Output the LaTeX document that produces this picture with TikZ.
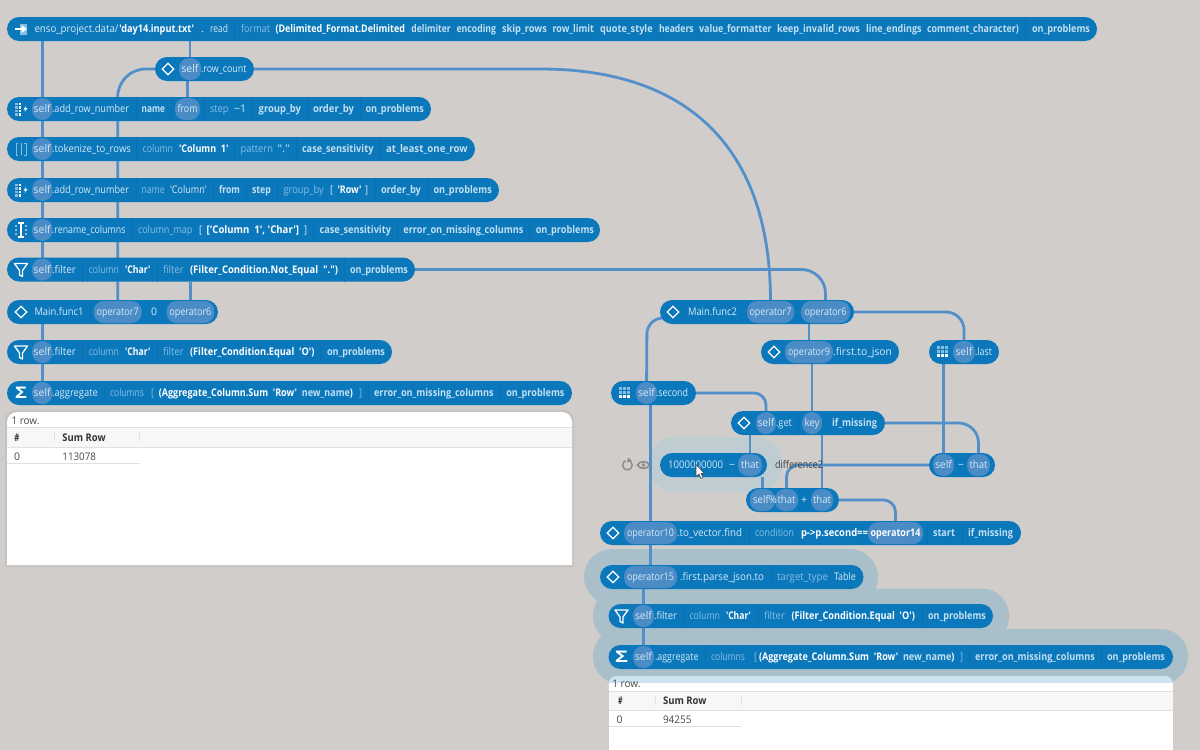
\documentclass[tikz,border=0pt]{standalone}
\usepackage{fontspec}
\usepackage{graphicx}
\setmainfont{Open Sans}[Ligatures=TeXOff]
\usetikzlibrary{shapes.geometric,calc}
\definecolor{bgc}{HTML}{D0CDCA}
\definecolor{pillc}{HTML}{0B78BC}
\definecolor{chipc}{HTML}{4B8CC6}
\definecolor{edgec}{HTML}{5390CA}
\definecolor{sepc}{HTML}{0A70B2}
\definecolor{haloc}{HTML}{A9BFC9}
\definecolor{halok}{HTML}{BFCDD2}
\definecolor{nrm}{HTML}{D6EAF6}
\definecolor{dimc}{HTML}{86BEE2}
\definecolor{argc}{HTML}{C2E0F2}
\definecolor{tabtx}{HTML}{4A4A4A}
\definecolor{icong}{HTML}{8C8C8A}
\definecolor{tabtint}{HTML}{CDE3F0}
\pgfdeclarelayer{under}
\pgfdeclarelayer{wires}
\pgfsetlayers{under,wires,main}
\tikzset{
  pillbox/.style={fill=pillc,rounded corners=12pt,minimum height=24pt,inner sep=0pt,outer sep=0pt},
  halobox/.style={fill=haloc,rounded corners=27pt,inner sep=0pt,outer sep=0pt},
  chipbox/.style={fill=chipc,rounded corners=10pt,minimum height=22pt,inner sep=0pt,outer sep=0pt,text=nrm,font=\fontsize{10.5}{12}\selectfont,text height=9.5pt,text depth=2.5pt},
  txt/.style={inner sep=0pt,outer sep=0pt,anchor=base west,font=\fontsize{10.5}{12}\selectfont},
  nrmt/.style={text=nrm},
  dimt/.style={text=dimc},
  argt/.style={text=argc,font=\fontsize{10.5}{12}\selectfont\bfseries},
  lit/.style={text=white,font=\fontsize{10.5}{12}\selectfont\bfseries},
  tabt/.style={text=tabtx},
  tabh/.style={text=black!80,font=\fontsize{10.5}{12}\selectfont\bfseries},
  wire/.style={draw=edgec,line width=2.8pt},
  sepline/.style={draw=sepc,line width=0.6pt},
  diam/.style={draw=white,diamond,line width=1.2pt,minimum width=12pt,minimum height=12pt,inner sep=0pt},
  rule/.style={draw=black!12,line width=0.7pt},
}
\newcounter{tc}
\newcommand\tx[5]{\stepcounter{tc}\pgfmathsetlengthmacro\tw{(#3-#2)}%
  \node[txt,#1] (t\arabic{tc}) at (#2,#4+3.5) {\resizebox{\tw}{\height}{#5}};}
\newcommand\pill[4]{\node[pillbox,minimum width={(#3-#2)*1pt}] (#1) at ({(#2+#3)/2},#4) {};}
\newcommand\chip[6]{\pgfmathsetlengthmacro\tw{#5}%
  \node[chipbox,minimum width={(#3-#2)*1pt}] (#1) at ({(#2+#3)/2},#4) {\resizebox{\tw}{\height}{#6}};}
\newcommand\sep[2]{\draw[sepline] (#1,#2-12) -- (#1,#2+12);}
\newcommand\dmd[3]{\node[diam] (#1) at (#2,#3) {};}
\newcommand\funnel[2]{\draw[white,line width=1.3pt,line join=round] (#1-6.5,#2-6) -- (#1+6.5,#2-6) -- (#1+1.5,#2+1) -- (#1+1.5,#2+7) -- (#1-1.5,#2+5.5) -- (#1-1.5,#2+1) -- cycle;}
\newcommand\gridicon[2]{\foreach \i in {-1,0,1}{\foreach \j in {-1,0}{\fill[dimc] (#1+\i*4-1.5,#2+\j*4-2) rectangle ++(3,3);}\fill[white] (#1+\i*4-1.5,#2+2) rectangle ++(3,3);}}
\newcommand\rownumicon[2]{\foreach \j in {-1.5,-0.5,0.5,1.5}{\fill[dimc] (#1-6,#2+\j*3.5-1.2) rectangle ++(2.6,2.6);\fill[white] (#1-2.4,#2+\j*3.5-1.2) rectangle ++(2.6,2.6);}\fill[white] (#1+5,#2-3) -- (#1+2.5,#2+0.5) -- (#1+4.5,#2+0.5) -- (#1+3.5,#2+3) -- (#1+6.5,#2-0.8) -- (#1+4.5,#2-0.8) -- cycle;}
\begin{document}
\begin{tikzpicture}[x=1pt,y=-1pt]
\useasboundingbox (0,0) rectangle (1200,750);
% ---------- left column pills
\pill{top}{7}{1097}{29}
\pill{rc}{155}{254}{69}
\pill{pa}{7}{431}{109}
\pill{pb}{7}{475}{149}
\pill{pc}{7}{499}{190}
\pill{pd}{7}{600}{230}
\pill{pe}{7}{415}{269.5}
\pill{ff}{7}{218}{312}
\pill{pg}{7}{392}{352}
\pill{ph}{7}{572}{393}
% ---------- right column pills
\pill{fg}{660}{854}{312}
\pill{opn}{761}{899}{352}
\pill{lastp}{929}{999}{352}
\pill{secp}{611}{696}{393}
\pill{getp}{731}{885}{423}
\pill{kp}{660}{767}{465}
\pill{subp}{929}{995}{465}
\pill{addp}{746}{839}{500}
\pill{tenp}{600}{1021}{533}
\pill{fifp}{600}{863.5}{577}
\pill{fltp}{608.5}{993}{616}
\pill{aggp}{608.5}{1173}{657}
% ---------- background and halos
\begin{pgfonlayer}{under}
\fill[bgc] (0,0) rectangle (1200,750);
\node[halobox,rounded corners=28pt,minimum width=294pt,minimum height=56pt] (ha) at (731,577) {};
\node[halobox,minimum width=416pt,minimum height=55pt] (hb) at (801,616) {};
\node[halobox,minimum width=595pt,minimum height=55pt] (hc) at (890.5,656.5) {};
\node[fill=halok,rounded corners=27pt,inner sep=0pt,minimum width=135pt,minimum height=55pt] (hd) at (715.5,464.5) {};
\end{pgfonlayer}
% ---------- top pill
\fill[dimc] (15,23.5) rectangle (27,34.5);
\fill[pillc] (15,23.5) rectangle (20,34.5);
\draw[white,line width=1.6pt] (15,29) -- (24,29);
\fill[white] (27,29) -- (21.5,25) -- (21.5,33) -- cycle;
\tx{nrmt}{34.5}{118.5}{29}{enso\_project.data/}
\tx{lit}{119.4}{194}{29}{'day14.input.txt'}
\tx{nrmt}{201}{204}{29}{.}
\tx{nrmt}{210}{228}{29}{read}
\sep{234}{29}
\tx{dimt}{241}{270}{29}{format}
\tx{lit}{275.5}{405}{29}{(Delimited\_Format.Delimited}
\tx{argt}{411.4}{450.8}{29}{delimiter}
\tx{argt}{456.6}{496}{29}{encoding}
\tx{argt}{502}{547}{29}{skip\_rows}
\tx{argt}{552.6}{594}{29}{row\_limit}
\tx{argt}{600}{652.7}{29}{quote\_style}
\tx{argt}{659}{693.7}{29}{headers}
\tx{argt}{699}{771.7}{29}{value\_formatter}
\tx{argt}{777}{860}{29}{keep\_invalid\_rows}
\tx{argt}{866}{921.7}{29}{line\_endings}
\tx{argt}{927}{1019}{29}{comment\_character)}
\sep{1025}{29}
\tx{argt}{1032}{1090}{29}{on\_problems}
% ---------- row_count
\dmd{drc}{168}{69}
\chip{srk}{179}{201}{69}{17}{self}
\tx{nrmt}{201}{246.5}{69}{.row\_count}
% ---------- add_row_number 1
\rownumicon{21}{109}
\chip{sa}{32}{52.5}{109}{17}{self}
\tx{nrmt}{52}{129}{109}{.add\_row\_number}
\sep{136}{109}
\tx{argt}{141.6}{165}{109}{name}
\sep{171}{109}
\chip{fromc}{175}{200}{109}{20}{from}
\sep{204}{109}
\tx{dimt}{210}{228.5}{109}{step}
\tx{nrmt}{234}{246}{109}{−1}
\sep{252.6}{109}
\tx{argt}{258.7}{301}{109}{group\_by}
\sep{307}{109}
\tx{argt}{313}{354}{109}{order\_by}
\sep{360}{109}
\tx{argt}{365.5}{424}{109}{on\_problems}
% ---------- tokenize
\draw[dimc,line width=1pt] (18,143) -- (16,143) -- (16,155) -- (18,155);
\draw[dimc,line width=1pt] (24,143) -- (26,143) -- (26,155) -- (24,155);
\draw[dimc,line width=1pt] (21,143) -- (21,155);
\chip{sb}{32}{52.5}{149}{17}{self}
\tx{nrmt}{52}{131}{149}{.tokenize\_to\_rows}
\sep{136.6}{149}
\tx{dimt}{142.7}{173}{149}{column}
\tx{lit}{179}{228.5}{149}{'Column~~1'}
\sep{234.6}{149}
\tx{dimt}{240.7}{273}{149}{pattern}
\tx{nrmt}{277.5}{289.7}{149}{"."}
\sep{296}{149}
\tx{argt}{302}{373.5}{149}{case\_sensitivity}
\sep{380}{149}
\tx{argt}{386}{467.7}{149}{at\_least\_one\_row}
% ---------- add_row_number 2
\rownumicon{21}{190}
\chip{sc}{32}{52.5}{190}{17}{self}
\tx{nrmt}{52}{129}{190}{.add\_row\_number}
\sep{136}{190}
\tx{dimt}{141.6}{164.6}{190}{name}
\tx{nrmt}{170}{206.7}{190}{'Column'}
\sep{213}{190}
\tx{argt}{219}{240}{190}{from}
\sep{246}{190}
\tx{argt}{252}{271}{190}{step}
\sep{277.5}{190}
\tx{dimt}{283.6}{323.8}{190}{group\_by}
\tx{nrmt}{330}{333}{190}{[}
\tx{lit}{337.5}{361.6}{190}{'Row'}
\tx{nrmt}{365}{368}{190}{]}
\sep{375}{190}
\tx{argt}{381}{421}{190}{order\_by}
\sep{427.5}{190}
\tx{argt}{433.6}{491.8}{190}{on\_problems}
% ---------- rename
\foreach \j in {-4,0,4}{\fill[dimc] (15,230+\j-1) rectangle ++(2,2);\fill[dimc] (25,230+\j-1) rectangle ++(2,2);}
\draw[white,line width=1.2pt] (18,223) -- (24,223) (18,237) -- (24,237) (21,223) -- (21,237);
\chip{sd}{32}{52.5}{230}{17}{self}
\tx{nrmt}{52}{125.5}{230}{.rename\_columns}
\sep{132}{230}
\tx{dimt}{138}{192.5}{230}{column\_map}
\tx{nrmt}{199}{202}{230}{[}
\tx{lit}{206.7}{299}{230}{['Column~~1', 'Char']}
\tx{nrmt}{304}{307}{230}{]}
\sep{313}{230}
\tx{argt}{319.6}{391}{230}{case\_sensitivity}
\sep{397}{230}
\tx{argt}{403.4}{523.5}{230}{error\_on\_missing\_columns}
\sep{529.7}{230}
\tx{argt}{535.8}{594}{230}{on\_problems}
% ---------- filter 1
\funnel{21}{269.5}
\chip{se}{32}{52.5}{269.5}{17}{self}
\tx{nrmt}{52}{76}{269.5}{.filter}
\sep{82}{269.5}
\tx{dimt}{88.8}{119}{269.5}{column}
\tx{lit}{125}{150.4}{269.5}{'Char'}
\sep{157}{269.5}
\tx{dimt}{163}{183.7}{269.5}{filter}
\tx{lit}{190}{338}{269.5}{(Filter\_Condition.Not\_Equal~~".")}
\sep{344.4}{269.5}
\tx{argt}{350}{408}{269.5}{on\_problems}
% ---------- Main.func1
\dmd{dff}{21}{312}
\tx{nrmt}{34.5}{83.4}{312}{Main.func1}
\sep{90}{312}
\chip{opsa}{93.8}{141.6}{312}{42}{operator7}
\tx{nrmt}{151}{157}{312}{0}
\chip{opxa}{166.5}{214.3}{312}{42}{operator6}
% ---------- filter 2
\funnel{21}{352}
\chip{sf}{32}{52.5}{352}{17}{self}
\tx{nrmt}{52}{76}{352}{.filter}
\sep{82}{352}
\tx{dimt}{88.8}{119}{352}{column}
\tx{lit}{125}{150.4}{352}{'Char'}
\sep{157}{352}
\tx{dimt}{163}{183.7}{352}{filter}
\tx{lit}{190}{314.6}{352}{(Filter\_Condition.Equal~~'O')}
\sep{320.7}{352}
\tx{argt}{327}{385}{352}{on\_problems}
% ---------- aggregate 1
\tx{lit,text=white}{15}{27}{395}{\fontsize{16}{16}\selectfont Σ}
\chip{sg}{32}{52.5}{393}{17}{self}
\tx{nrmt}{52}{98}{393}{.aggregate}
\sep{104}{393}
\tx{dimt}{110}{144}{393}{columns}
\tx{dimt}{151}{154}{393}{[}
\tx{lit}{158.8}{353}{393}{(Aggregate\_Column.Sum~~'Row'~~{\color{argc}new\_name})}
\tx{dimt}{359}{362}{393}{]}
\sep{368}{393}
\tx{argt}{374}{493.7}{393}{error\_on\_missing\_columns}
\sep{500}{393}
\tx{argt}{506.3}{564.5}{393}{on\_problems}
% ---------- table 1
\fill[black,opacity=.05] (5,567) -- (5,412) [rounded corners=10pt] -- (5,410) -- (574,410) [sharp corners] -- (574,567) -- cycle;
\fill[white] (7,565) -- (7,425) [rounded corners=10pt] -- (7,412) -- (572,412) [sharp corners] -- (572,565) -- cycle;
\draw[rule] (7,427.5) -- (572,427.5);
\fill[black!3] (7,428) rectangle (572,447);
\draw[rule] (7,447) -- (572,447);
\draw[rule] (7,463) -- (140,463);
\draw[rule] (54.3,433) -- (54.3,441) (139.7,433) -- (139.7,441);
\tx{tabt}{11.5}{39.4}{421}{1 row.}
\tx{tabh}{14.5}{19.5}{437.5}{\#}
\tx{tabh}{62.4}{105.6}{437.5}{Sum Row}
\tx{tabt}{14}{20}{456.5}{0}
\tx{tabt}{62.4}{96}{456.5}{113078}
% ---------- Main.func2
\dmd{dfg}{673}{312}
\tx{nrmt}{688}{737}{312}{Main.func2}
\chip{opsb}{747}{794}{312}{42}{operator7}
\chip{opxb}{801}{850}{312}{42}{operator6}
% ---------- operator9
\dmd{dop}{774}{352}
\chip{opnn}{785}{833}{352}{42}{operator9}
\tx{nrmt}{833}{892}{352}{.first.to\_json}
% ---------- self.last
\gridicon{942}{352}
\chip{sl}{953}{975}{352}{17}{self}
\tx{nrmt}{975}{992}{352}{.last}
% ---------- self.second
\gridicon{624}{393}
\chip{ss}{636}{657}{393}{17}{self}
\tx{nrmt}{656}{688}{393}{.second}
% ---------- self.get
\dmd{dgt}{744}{423}
\chip{sgt}{756}{776}{423}{17}{self}
\tx{nrmt}{776}{792}{423}{.get}
\sep{798}{423}
\chip{keyc}{802}{822}{423}{15}{key}
\tx{argt}{832}{877}{423}{if\_missing}
% ---------- 1000000000 - that
\tx{nrmt}{668}{723}{465}{1000000000}
\tx{nrmt}{729}{735}{465}{−}
\chip{tha}{738}{762}{465}{18}{that}
\tx{tabt,text=black!75}{775}{823}{465}{difference2}
% ---------- self - that
\chip{sm}{933}{954}{465}{17}{self}
\tx{nrmt}{958}{964}{465}{−}
\chip{thb}{967}{990}{465}{18}{that}
% ---------- self%that + that
\chip{sn}{750}{775}{500}{1}{\phantom{x}}
\chip{thc}{775}{798}{500}{18}{that}
\tx{nrmt}{753}{777}{500}{self\%}
\tx{nrmt}{801}{807}{500}{+}
\chip{thd}{811}{833}{500}{18}{that}
% ---------- operator10
\dmd{dtn}{613}{533}
\chip{opt}{624}{677}{533}{47}{operator10}
\tx{nrmt}{677}{742}{533}{.to\_vector.find}
\sep{749}{533}
\tx{dimt}{755}{794}{533}{condition}
\tx{lit}{801}{868}{533}{p->p.second==}
\chip{opf}{868}{923}{533}{50}{\bfseries\color{white}operator14}
\sep{927}{533}
\tx{argt}{933}{955}{533}{start}
\sep{962}{533}
\tx{argt}{968}{1013}{533}{if\_missing}
% ---------- operator15
\dmd{dfi}{613}{577}
\chip{opg}{624}{677}{577}{47}{operator15}
\tx{nrmt}{680}{764}{577}{.first.parse\_json.to}
\sep{771}{577}
\tx{dimt}{777}{828}{577}{target\_type}
\tx{nrmt}{834}{856}{577}{Table}
% ---------- filter 3
\funnel{621.5}{616}
\chip{sp}{633}{654}{616}{17}{self}
\tx{nrmt}{654}{677}{616}{.filter}
\sep{683}{616}
\tx{dimt}{689.5}{720}{616}{column}
\tx{lit}{726}{751}{616}{'Char'}
\sep{758}{616}
\tx{dimt}{764}{785}{616}{filter}
\tx{lit}{791.5}{915}{616}{(Filter\_Condition.Equal~~'O')}
\sep{922}{616}
\tx{argt}{928}{986}{616}{on\_problems}
% ---------- aggregate 2
\tx{lit,text=white}{615}{628}{659}{\fontsize{16}{16}\selectfont Σ}
\chip{sq}{633}{654}{657}{17}{self}
\tx{nrmt}{655}{698.6}{657}{.aggregate}
\sep{705}{657}
\tx{dimt}{711}{745}{657}{columns}
\tx{dimt}{754}{757}{657}{[}
\tx{lit}{759}{954.5}{657}{(Aggregate\_Column.Sum~~'Row'~~{\color{argc}new\_name})}
\tx{dimt}{960}{963}{657}{]}
\sep{969}{657}
\tx{argt}{975}{1095}{657}{error\_on\_missing\_columns}
\sep{1101}{657}
\tx{argt}{1107}{1165}{657}{on\_problems}
% ---------- table 2
\fill[tabtint] (608.5,690) -- (608.5,686) [rounded corners=8pt] -- (608.5,676) -- (1173,676) [sharp corners] -- (1173,690) -- cycle;
\fill[white] (608.5,683) rectangle (1173,750);
\draw[rule] (608.5,691.5) -- (1173,691.5);
\fill[black!3] (608.5,692) rectangle (1173,710);
\draw[rule] (608.5,710) -- (1173,710);
\draw[rule] (608.5,726) -- (741,726);
\draw[rule] (655,697) -- (655,705) (741,697) -- (741,705);
\tx{tabt}{612.4}{640.5}{684}{1 row.}
\tx{tabh}{618}{622.5}{701}{\#}
\tx{tabh}{663}{706.5}{701}{Sum Row}
\tx{tabt}{616.5}{622.5}{720}{0}
\tx{tabt}{663}{691.5}{720}{94255}
% ---------- refresh, eye, pointer
\draw[icong,line width=1.4pt] (630.5,461.5) arc (-50:250:4.8);
\fill[icong] (628,457.5) -- (632,461) -- (627,462.5) -- cycle;
\draw[icong,line width=1.6pt] (637.5,465) .. controls (640,460.5) and (647,460.5) .. (649.5,465) .. controls (647,469.5) and (640,469.5) .. (637.5,465) -- cycle;
\fill[icong] (643.5,465) circle (1.8);
\draw[black!70,fill=white,line width=.6pt,line join=round] (696,464.5) -- (696,476.5) -- (699,474) -- (701,478.5) -- (703,477.5) -- (701,473.5) -- (704.5,473.5) -- cycle;
% ---------- connectors
\begin{pgfonlayer}{wires}
\draw[wire] (top.south -| sa) -- (sa);
\draw[wire] (top.south -| srk) -- (srk);
\draw[wire] (rc.south -| fromc) -- (fromc);
\draw[wire] (pa.south -| sb) -- (sb);
\draw[wire] (pb.south -| sc) -- (sc);
\draw[wire] (pc.south -| sd) -- (sd);
\draw[wire] (pd.south -| se) -- (se);
\draw[wire,rounded corners=28pt] (rc.west) -| (opsa);
\draw[wire] (pe.south -| opxa) -- (opxa);
\draw[wire] (ff.south -| sf) -- (sf);
\draw[wire] (pg.south -| sg) -- (sg);
\draw[wire] (rc.east) -- (540,69) .. controls (690,69) and (770.5,150) .. (opsb);
\draw[wire,rounded corners=24pt] (pe.east) -| (opxb);
\draw[wire,rounded corners=16pt] ($(fg.west)+(6,6)$) -- ($(fg.west)+(-13,6)$) -- (ss);
\draw[wire] (fg.south -| opnn) -- (opnn);
\draw[wire,rounded corners=18pt] (fg.east) -| (sl);
\draw[wire] (secp.south -| opt) -- (opt);
\draw[wire] (opn.south -| keyc) -- (keyc);
\draw[wire] (lastp.south -| sm) -- (sm);
\draw[wire,rounded corners=12pt] (secp.east) -| (sgt);
\draw[wire] (getp.south -| tha) -- (tha);
\draw[wire,rounded corners=20pt] (getp.east) -| (thb);
\draw[wire] (getp.south -| thd) -- (thd);
\draw[wire] (kp.south -| sn) -- (sn);
\draw[wire,rounded corners=12pt] (subp.west) -| (thc);
\draw[wire,rounded corners=12pt] (addp.east) -| (opf);
\draw[wire] (tenp.south -| opg) -- (opg);
\draw[wire] (fifp.south -| sp) -- (sp);
\draw[wire] (fltp.south -| sq) -- (sq);
\end{pgfonlayer}
\end{tikzpicture}
\end{document}
